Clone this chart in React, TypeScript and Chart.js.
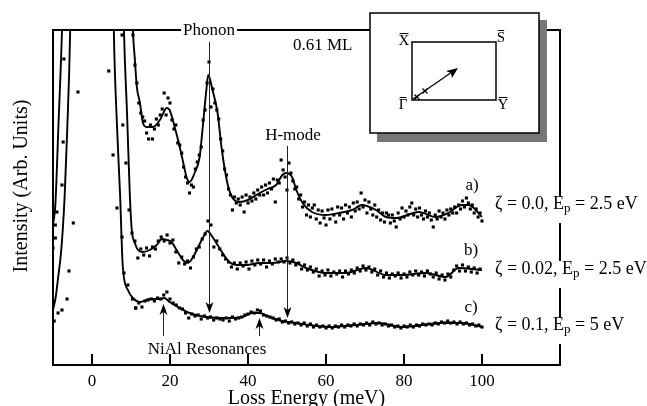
import React, { useEffect, useRef } from "react";
import { Chart, registerables } from "chart.js";

Chart.register(...registerables);

// ---- axis ----
const X_MIN = -10;
const X_MAX = 120;
const Y_MIN = 0;
const Y_MAX = 335;
const X_TICKS = [0, 20, 40, 60, 80, 100];

// ---- fitted curves [loss energy (meV), intensity (arb.)] ----
const aFit: number[][] = [
  [9.4, 520], [10.0, 400], [10.5, 334], [11.0, 305], [11.5, 278], [12.3, 262], [13.0, 243],
  [14.0, 238], [15.6, 238], [17.4, 245], [19.2, 257], [19.9, 255], [21.2, 238], [22.5, 218],
  [23.8, 195], [24.3, 187], [25.0, 183], [26.3, 192], [27.6, 208], [28.4, 238], [29.4, 278],
  [29.8, 290], [30.9, 275], [32.2, 252], [33.3, 215], [34.7, 182], [35.9, 168], [37.8, 163],
  [40.0, 165], [43.0, 172], [45.0, 176], [47.2, 180], [48.8, 190], [49.8, 192], [51.3, 188],
  [52.4, 175], [54.0, 162], [56.4, 153], [60.0, 150], [63.3, 152], [66.7, 155], [69.2, 160],
  [72.8, 155], [75.4, 148], [78.0, 147], [83.8, 153], [88.1, 148], [91.4, 152], [94.8, 160],
  [96.6, 160], [100.0, 148],
];
const bFit: number[][] = [
  [-10.0, 140], [-9.4, 160], [-8.6, 240], [-7.7, 334], [-7.0, 450], [7.8, 420], [8.2, 334],
  [9.0, 250], [9.7, 170], [10.2, 135], [11.0, 122], [11.8, 115], [13.0, 113], [14.8, 115],
  [16.6, 120], [17.9, 126], [19.2, 125], [20.4, 123], [21.7, 115], [23.3, 105], [24.5, 102],
  [25.8, 107], [27.1, 117], [28.4, 127], [29.6, 134], [30.9, 128], [32.2, 120], [33.5, 112],
  [35.2, 103], [37.0, 100], [39.6, 100], [42.9, 102], [46.2, 102], [49.8, 104], [52.4, 102],
  [54.9, 97], [60.0, 92], [65.1, 92], [70.2, 97], [75.4, 90], [79.4, 90], [85.6, 92],
  [90.7, 88], [94.0, 97], [100.0, 95],
];
const cFit: number[][] = [
  [-10.0, 55], [-9.3, 68], [-8.7, 87], [-8.0, 110], [-7.5, 135], [-7.0, 170], [-6.4, 230],
  [-5.6, 334], [-5.0, 500], [5.0, 500], [5.6, 334], [6.4, 240], [7.2, 170], [7.9, 98],
  [9.2, 75], [10.5, 67], [12.3, 63], [14.8, 66], [17.4, 66], [18.6, 67], [19.9, 63],
  [22.5, 57], [25.0, 52], [29.4, 48], [34.5, 47], [38.6, 48], [41.1, 52], [42.9, 52],
  [45.5, 48], [48.8, 44], [52.4, 42], [55.7, 40], [60.8, 38], [67.7, 40], [73.6, 42],
  [79.4, 38], [89.7, 42], [94.8, 42], [100.0, 38],
];

// ---- measured points ----
const aDotStart = 10.5;
const aDotStep = 0.5;
const aDots = [
  330, 300, 282, 262, 252, 248, 244, 232, 226, 240, 226, 236, 246, 240, 250, 256, 272, 250, 267, 262,
  245, 236, 240, 222, 220, 212, 198, 188, 182, 172, 180, 178, 196, 203, 210, 218, 245, 255, 282, 303,
  258, 276, 262, 255, 246, 226, 214, 196, 190, 176, 170, 155, 168, 162, 166, 160, 168, 153, 170, 162,
  168, 164, 172, 166, 175, 170, 178, 170, 180, 172, 182, 176, 186, 163, 185, 182, 205, 195, 188, 175,
  202, 192, 184, 176, 178, 166, 170, 158, 163, 150, 160, 148, 157, 160, 146, 155, 142, 154, 147, 140,
  155, 146, 156, 150, 143, 158, 150, 157, 146, 160, 152, 158, 148, 162, 154, 163, 156, 172, 158, 165,
  152, 163, 156, 150, 160, 148, 155, 145, 152, 143, 152, 150, 142, 150, 144, 138, 152, 146, 157, 148,
  154, 150, 158, 162, 150, 156, 148, 157, 150, 146, 154, 148, 152, 145, 138, 150, 146, 154, 148, 152,
  146, 155, 150, 156, 152, 158, 152, 160, 156, 164, 158, 167, 162, 156, 160, 152, 156, 148, 152, 144,
];
const bDotStart = 10.25;
const bDotStep = 0.75;
const bDots = [
  132, 124, 107, 116, 110, 117, 109, 118, 116, 124, 128, 124, 130, 122, 125, 113, 102, 108, 101, 104,
  97, 108, 116, 118, 126, 131, 144, 140, 118, 124, 116, 110, 106, 103, 98, 102, 96, 102, 99, 103,
  96, 104, 100, 105, 101, 105, 98, 104, 101, 106, 103, 106, 103, 107, 102, 105, 100, 102, 96, 100,
  95, 98, 93, 96, 89, 94, 90, 95, 89, 93, 91, 94, 88, 94, 91, 95, 92, 97, 94, 99,
  95, 98, 93, 96, 90, 94, 88, 92, 87, 91, 89, 92, 87, 91, 88, 93, 90, 94, 90, 93,
  89, 94, 91, 88, 92, 86, 90, 85, 91, 88, 95, 99, 94, 100, 94, 98, 93, 97, 92, 96,
];
const cDotStart = 10.4;
const cDotStep = 0.8;
const cDots = [
  66, 57, 62, 58, 64, 65, 66, 64, 67, 66, 70, 73, 66, 62, 60, 57, 56, 52, 47, 51,
  49, 50, 46, 49, 47, 48, 45, 47, 46, 45, 47, 44, 48, 46, 47, 48, 50, 51, 53, 52,
  55, 54, 50, 49, 48, 47, 45, 46, 43, 44, 42, 43, 41, 42, 40, 42, 39, 41, 38, 40,
  38, 39, 37, 39, 37, 39, 38, 40, 38, 40, 39, 41, 39, 41, 40, 42, 40, 43, 41, 42,
  40, 41, 39, 40, 38, 39, 37, 39, 38, 40, 38, 40, 39, 41, 40, 41, 40, 42, 41, 43,
  42, 44, 42, 43, 41, 43, 41, 42, 40, 41, 39, 40, 38,
];
// points on the flanks of the elastic peak
const elasticDots: number[][] = [
  [-9.7, 44], [-8.7, 52], [-7.7, 55], [-6.4, 66], [-5.9, 94], [-4.8, 142], [-3.6, 273],
  [4.3, 294], [5.4, 210], [6.4, 157], [7.7, 128], [8.2, 92], [9.2, 80],
  [-10.0, 117], [-9.4, 127], [-9.4, 140], [-9.0, 153], [-7.7, 180], [-7.4, 223], [-7.2, 306],
  [7.7, 330], [7.9, 240], [8.7, 202], [9.5, 155], [11.2, 57], [10.0, 340],
];

// ---- annotations (text) ----
const yTitle = "Intensity (Arb. Units)";
const xTitle = "Loss Energy (meV)";
const phononLabel = "Phonon";
const hmodeLabel = "H-mode";
const coverageLabel = "0.61 ML";
const resonanceLabel = "NiAl Resonances";
const curveLetters = ["a)", "b)", "c)"];
const zetaLabels = [
  ["ζ = 0.0, E", "p", " = 2.5 eV"],
  ["ζ = 0.02, E", "p", " = 2.5 eV"],
  ["ζ = 0.1, E", "p", " = 5 eV"],
];
const insetLabels = ["X", "S", "Γ", "Y"];

const SERIF = '"Liberation Serif", "Times New Roman", serif';

function toXY(pairs: number[][]) {
  return pairs.map(([x, y]) => ({ x, y }));
}
function gridDots(start: number, step: number, vals: number[]) {
  return vals.map((y, i) => ({ x: +(start + i * step).toFixed(3), y }));
}

const annotationPlugin = {
  id: "annotations",
  afterDraw(chart: any) {
    const { ctx, chartArea: area } = chart;
    const xs = chart.scales.x;
    const ys = chart.scales.y;
    const X = (v: number) => xs.getPixelForValue(v);
    const Y = (v: number) => ys.getPixelForValue(v);
    ctx.save();
    ctx.strokeStyle = "#000";
    ctx.fillStyle = "#000";

    // top and right frame
    ctx.lineWidth = 2;
    ctx.beginPath();
    ctx.moveTo(area.left - 1, area.top);
    ctx.lineTo(area.right, area.top);
    ctx.lineTo(area.right, area.bottom + 1);
    ctx.stroke();

    // inward tick marks
    X_TICKS.forEach((v) => {
      const px = Math.round(X(v));
      ctx.beginPath();
      ctx.moveTo(px, area.bottom);
      ctx.lineTo(px, area.bottom - 11);
      ctx.stroke();
    });

    const font = (s: number) => `${s}px ${SERIF}`;

    // y-axis title
    ctx.save();
    ctx.translate(22, 186);
    ctx.rotate(-Math.PI / 2);
    ctx.font = font(20);
    ctx.textAlign = "center";
    ctx.textBaseline = "middle";
    ctx.fillText(yTitle, 0, 0);
    ctx.restore();

    // arrows
    const arrow = (x: number, y1: number, y2: number) => {
      const dir = y2 > y1 ? 1 : -1;
      ctx.strokeStyle = "#222";
      ctx.fillStyle = "#000";
      ctx.lineWidth = 1;
      ctx.beginPath();
      ctx.moveTo(x, y1);
      ctx.lineTo(x, y2 - dir * 8);
      ctx.stroke();
      ctx.beginPath();
      ctx.moveTo(x, y2);
      ctx.lineTo(x - 4, y2 - dir * 11);
      ctx.lineTo(x, y2 - dir * 8);
      ctx.lineTo(x + 4, y2 - dir * 11);
      ctx.closePath();
      ctx.fill();
    };
    arrow(Math.round(X(30)) + 0.5, 42, Y(52));
    arrow(Math.round(X(50)) + 0.5, 146, Y(47));
    arrow(Math.round(X(18.1)) + 0.5, 336, Y(61));
    arrow(Math.round(X(42.7)) + 0.5, 336, Y(47));

    // Phonon label over the top frame
    ctx.font = font(17);
    ctx.textBaseline = "middle";
    ctx.textAlign = "center";
    const pw = ctx.measureText(phononLabel).width;
    ctx.fillStyle = "#fff";
    ctx.fillRect(X(30) - pw / 2 - 2, area.top - 8, pw + 4, 16);
    ctx.fillStyle = "#000";
    ctx.fillText(phononLabel, X(30), area.top + 1);

    ctx.fillText(hmodeLabel, 293, 136);
    ctx.fillText(resonanceLabel, 207, 350);
    ctx.textAlign = "left";
    ctx.fillText(coverageLabel, 293, 46);

    ctx.textAlign = "center";
    ctx.fillText(curveLetters[0], 472, 186);
    ctx.fillText(curveLetters[1], 471, 251);
    ctx.fillText(curveLetters[2], 471, 308);

    // zeta labels breaking the right frame
    const rows = [204, 269, 325];
    zetaLabels.forEach((parts, i) => {
      const cy = rows[i];
      ctx.fillStyle = "#fff";
      ctx.fillRect(493, cy - 8, 154, 27);
      ctx.fillStyle = "#000";
      ctx.textAlign = "left";
      ctx.textBaseline = "middle";
      let x = 495;
      ctx.font = font(18);
      ctx.fillText(parts[0], x, cy);
      x += ctx.measureText(parts[0]).width;
      ctx.font = font(13);
      ctx.fillText(parts[1], x, cy + 5);
      x += ctx.measureText(parts[1]).width;
      ctx.font = font(18);
      ctx.fillText(parts[2], x, cy);
    });

    // inset: shadow, box, zone
    ctx.fillStyle = "#777";
    ctx.fillRect(377, 20, 170, 122);
    ctx.fillStyle = "#fff";
    ctx.fillRect(370, 13, 169, 120);
    ctx.strokeStyle = "#000";
    ctx.lineWidth = 1.5;
    ctx.strokeRect(370, 13, 169, 120);
    ctx.strokeRect(412, 42, 84, 58);

    ctx.fillStyle = "#000";
    ctx.font = font(15);
    ctx.textAlign = "center";
    ctx.textBaseline = "middle";
    const letterPos = [
      [404, 41],
      [501, 38],
      [403, 105],
      [503, 105],
    ];
    ctx.lineWidth = 1;
    insetLabels.forEach((t, i) => {
      const [lx, ly] = letterPos[i];
      ctx.fillText(t, lx, ly);
      const w = ctx.measureText(t).width;
      ctx.beginPath();
      ctx.moveTo(lx - w / 2 + 1, ly - 7.5);
      ctx.lineTo(lx + w / 2 - 1, ly - 7.5);
      ctx.stroke();
    });

    // direction arrow
    ctx.lineWidth = 1.2;
    ctx.beginPath();
    ctx.moveTo(413, 99);
    ctx.lineTo(452, 72);
    ctx.stroke();
    ctx.beginPath();
    ctx.moveTo(458, 68);
    ctx.lineTo(446, 71);
    ctx.lineTo(451, 73);
    ctx.lineTo(452, 78);
    ctx.closePath();
    ctx.fill();
    const cross = (cx: number, cy: number) => {
      ctx.beginPath();
      ctx.moveTo(cx - 2.5, cy - 2.5);
      ctx.lineTo(cx + 2.5, cy + 2.5);
      ctx.moveTo(cx + 2.5, cy - 2.5);
      ctx.lineTo(cx - 2.5, cy + 2.5);
      ctx.stroke();
    };
    cross(417, 97);
    cross(425, 91);

    ctx.restore();
  },
};

export default function App() {
  const ref = useRef<HTMLCanvasElement | null>(null);

  useEffect(() => {
    document.body.style.margin = "0";
    const canvas = ref.current;
    if (!canvas) return;

    const lineDs = (data: number[][]) => ({
      type: "line" as const,
      data: toXY(data),
      borderColor: "#000",
      borderWidth: 1.9,
      pointRadius: 0,
      fill: false,
      cubicInterpolationMode: "monotone" as const,
      order: 1,
    });
    const dotDs = (data: { x: number; y: number }[]) => ({
      type: "scatter" as const,
      data,
      showLine: false,
      pointStyle: "rect" as const,
      pointRadius: 2.2,
      pointBorderWidth: 0,
      borderWidth: 0,
      backgroundColor: "#000",
      pointBackgroundColor: "#000",
      order: 2,
    });

    const chart = new Chart(canvas, {
      type: "scatter",
      data: {
        datasets: [
          dotDs(gridDots(aDotStart, aDotStep, aDots)),
          dotDs(gridDots(bDotStart, bDotStep, bDots)),
          dotDs(gridDots(cDotStart, cDotStep, cDots)),
          dotDs(toXY(elasticDots)),
          lineDs(aFit),
          lineDs(bFit),
          lineDs(cFit),
        ] as any,
      },
      options: {
        animation: false,
        responsive: false,
        devicePixelRatio: 1,
        layout: { padding: { top: 30, right: 87, left: 0, bottom: 0 } },
        plugins: { legend: { display: false }, tooltip: { enabled: false } },
        events: [],
        scales: {
          x: {
            type: "linear",
            min: X_MIN,
            max: X_MAX,
            grid: { display: false, drawTicks: false },
            border: { display: true, color: "#000", width: 2 },
            afterBuildTicks: (s: any) => {
              s.ticks = X_TICKS.map((v) => ({ value: v }));
            },
            afterFit: (s: any) => {
              s.height = 41;
            },
            ticks: {
              color: "#000",
              padding: 6,
              maxRotation: 0,
              autoSkip: false,
              font: { family: SERIF, size: 17 },
              callback: (v: any) => String(v),
            },
            title: {
              display: true,
              text: xTitle,
              color: "#000",
              font: { family: SERIF, size: 20 },
              padding: { top: 0, bottom: -5 },
            },
          },
          y: {
            type: "linear",
            min: Y_MIN,
            max: Y_MAX,
            grid: { display: false, drawTicks: false },
            border: { display: true, color: "#000", width: 2 },
            ticks: { display: false },
            afterFit: (s: any) => {
              s.width = 53;
            },
            title: { display: false },
          },
        },
      } as any,
      plugins: [annotationPlugin],
    });

    return () => chart.destroy();
  }, []);

  return (
    <div style={{ width: 647, height: 406, background: "#fff" }}>
      <canvas ref={ref} width={647} height={406} style={{ display: "block" }} />
    </div>
  );
}
